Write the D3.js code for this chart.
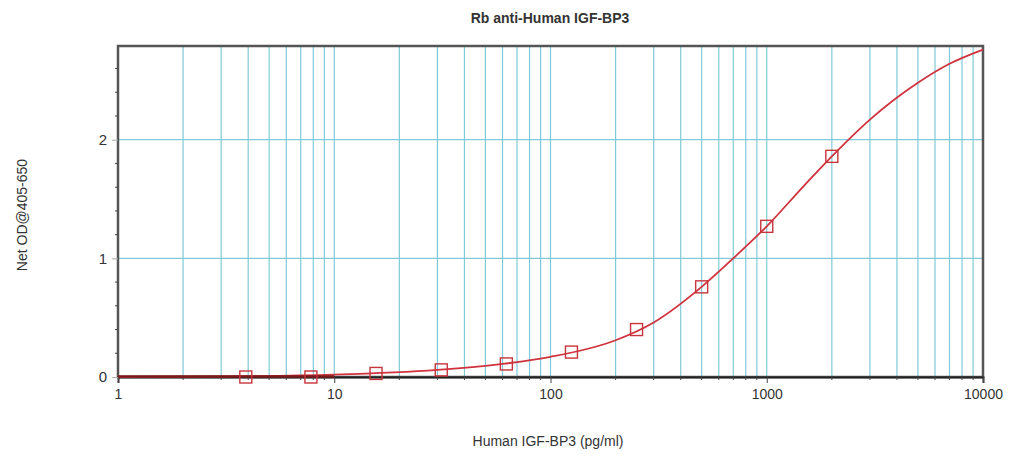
<!DOCTYPE html>
<html><head><meta charset="utf-8">
<script src="https://cdn.jsdelivr.net/npm/d3@7"></script>
<style>body{margin:0;background:#fff}svg{display:block}text{font-family:"Liberation Sans",Arial,sans-serif;fill:#333}</style>
</head><body>
<svg id="c" width="1018" height="459"></svg>
<script>
const title = "Rb anti-Human IGF-BP3";
const xLabel = "Human IGF-BP3 (pg/ml)";
const yLabel = "Net OD@405-650";
const xTickLabels = ["1","10","100","1000","10000"];
const yTickValues = [0,1,2];
const concentrations = [3.9, 7.8, 15.6, 31.25, 62.5, 125, 250, 500, 1000, 2000];
const odValues = [0.0, 0.0, 0.03, 0.06, 0.11, 0.21, 0.40, 0.76, 1.27, 1.86];
const curveX = [1, 3, 10, 30, 60, 100, 200, 300, 500, 700, 1000, 1500, 2000, 3000, 5000, 7000, 10000];
const curveY = [0.0, 0.005, 0.02, 0.06, 0.11, 0.17, 0.31, 0.46, 0.76, 1.0, 1.27, 1.62, 1.86, 2.17, 2.48, 2.64, 2.76];

const svg = d3.select("#c");
const L=118, R=983, T=46, B=377;
const x = d3.scaleLog().domain([1,10000]).range([L,R]);
const y = d3.scaleLinear().domain([0,2.79]).range([B,T]);

// vertical grid
const minor = [];
for (let d=1; d<10000; d*=10) for (let k=2;k<=10;k++) minor.push(d*k);
svg.append("g").selectAll("line").data(minor.filter(v=>v<10000)).join("line")
  .attr("x1",d=>x(d)).attr("x2",d=>x(d)).attr("y1",T).attr("y2",B)
  .attr("stroke","#7fcad8").attr("stroke-width",1.2);
svg.append("g").selectAll("line").data([1,2]).join("line")
  .attr("x1",L).attr("x2",R).attr("y1",d=>y(d)).attr("y2",d=>y(d))
  .attr("stroke","#7fcad8").attr("stroke-width",1.2);

// frame
svg.append("rect").attr("x",L).attr("y",T).attr("width",R-L).attr("height",B-T)
  .attr("fill","none").attr("stroke","#555").attr("stroke-width",2.5);

// axes
const xAxis = d3.axisBottom(x).tickValues([1,10,100,1000,10000]).tickFormat((d,i)=>xTickLabels[i]).tickSize(6).tickPadding(6);
const gx = svg.append("g").attr("transform",`translate(0,${B})`).call(xAxis);
gx.select(".domain").attr("stroke","#222").attr("stroke-width",2);
gx.selectAll(".tick line").attr("stroke","#444");
gx.selectAll("text").style("font-size","14px").attr("fill","#333");
svg.append("g").attr("transform",`translate(0,${B})`).selectAll("line").data(minor.filter(v=>![10,100,1000,10000].includes(v))).join("line")
  .attr("x1",d=>x(d)).attr("x2",d=>x(d)).attr("y1",0).attr("y2",3).attr("stroke","#444");

const yAxis = d3.axisLeft(y).tickValues(yTickValues).tickFormat(d3.format("d")).tickSize(6).tickPadding(5);
const gy = svg.append("g").attr("transform",`translate(${L},0)`).call(yAxis);
gy.select(".domain").remove();
gy.selectAll(".tick line").attr("stroke","#aaa");
gy.selectAll("text").style("font-size","15px").attr("fill","#333");
const yMinor = d3.range(0.2,2.79,0.2).filter(v=>Math.abs(v-1)>0.01 && Math.abs(v-2)>0.01);
svg.append("g").selectAll("line").data(yMinor).join("line")
  .attr("x1",L-3).attr("x2",L).attr("y1",d=>y(d)).attr("y2",d=>y(d)).attr("stroke","#444");

// curve
const line = d3.line().x((d,i)=>x(curveX[i])).y(d=>y(d)).curve(d3.curveMonotoneX);
svg.append("path").attr("d",line(curveY)).attr("fill","none").attr("stroke","#d0333d").attr("stroke-width",1.8);
svg.append("line").attr("x1",L).attr("x2",x(10)).attr("y1",B-0.5).attr("y2",B-0.5).attr("stroke","#7a1a1a").attr("stroke-width",2.5);

// points
const s=12;
svg.append("g").selectAll("rect").data(concentrations).join("rect")
  .attr("x",d=>x(d)-s/2).attr("y",(d,i)=>y(odValues[i])-s/2).attr("width",s).attr("height",s)
  .attr("fill","none").attr("stroke","#c8343c").attr("stroke-width",1.4);

// labels
svg.append("text").attr("x",550).attr("y",23).attr("text-anchor","middle").style("font-size","14px").style("font-weight","bold").attr("fill","#222").text(title);
svg.append("text").attr("x",548).attr("y",446).attr("text-anchor","middle").style("font-size","14px").text(xLabel);
svg.append("text").attr("transform","translate(27,215) rotate(-90)").attr("text-anchor","middle").style("font-size","14px").text(yLabel);
</script>
</body></html>
